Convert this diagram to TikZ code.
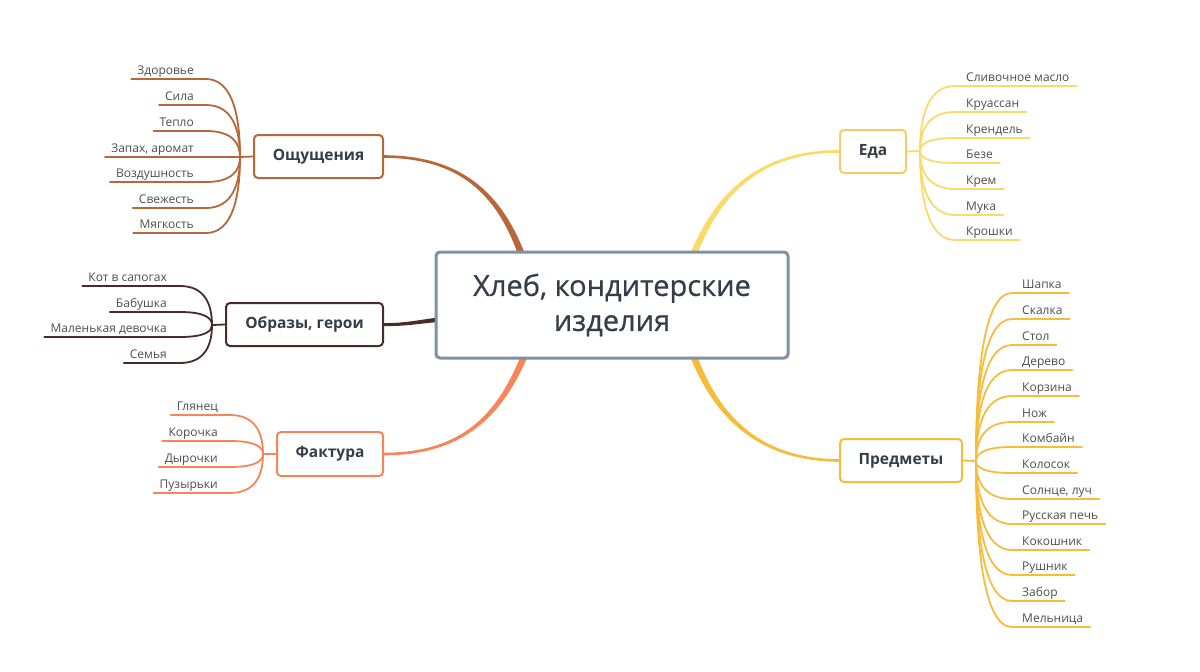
\documentclass[tikz,border=0pt]{standalone}
\usepackage{fontspec}
\setmainfont{Open Sans}
\newfontfamily\titlefont[FakeBold=0.6]{Open Sans}
\usetikzlibrary{calc}
\definecolor{cO}{RGB}{184,103,58}
\definecolor{cB}{RGB}{75,43,40}
\definecolor{cF}{RGB}{247,133,89}
\definecolor{cE}{RGB}{250,218,104}
\definecolor{cEb}{RGB}{246,205,100}
\definecolor{cP}{RGB}{246,188,60}
\definecolor{cC}{RGB}{127,143,165}
\definecolor{txt}{RGB}{52,62,72}
\definecolor{leaf}{RGB}{77,77,77}
\begin{document}
\begin{tikzpicture}[x=1pt,y=-1pt,
  box/.style={draw, line width=2pt, rounded corners=4pt, fill=white, minimum height=43pt, inner sep=0pt,
    font=\fontsize{15.5}{19}\selectfont\bfseries, text=txt},
  leafL/.style={anchor=base east, inner sep=0pt, font=\fontsize{12}{14}\selectfont, text=leaf},
  leafR/.style={anchor=base west, inner sep=0pt, font=\fontsize{12}{14}\selectfont, text=leaf},
  sub/.style={line width=1.8pt, line cap=round}]
\useasboundingbox (0,0) rectangle (1200,672);

% branch boxes
\node[box, draw=cO, minimum width=129pt] (o) at (318.5,156.5) {Ощущения};
\node[box, draw=cB, minimum width=157pt] (b) at (304.5,324.5) {Образы, герои};
\node[box, draw=cF, minimum width=106pt, minimum height=44pt] (f) at (330,454) {Фактура};
\node[box, draw=cEb, minimum width=66pt] (e) at (873,151.5) {Еда};
\node[box, draw=cP, minimum width=122pt] (p) at (901,460.5) {Предметы};

% main tapered connectors
\fill[cO] ($(o.east)+(0,-1.3)$) .. controls (480,155.7) and (518,213) .. (539,300)
  -- (531,300) .. controls (512,217) and (480,158.3) .. ($(o.east)+(0,1.3)$) -- cycle;
\fill[cF] ($(f.east)+(0,1.3)$) .. controls (480,455.3) and (518,398) .. (544,310)
  -- (536,310) .. controls (512,394) and (480,452.7) .. ($(f.east)+(0,-1.3)$) -- cycle;
\fill[cE] ($(e.west)+(0,-1.3)$) .. controls (745,149.7) and (697,210) .. (676,300)
  -- (684,300) .. controls (703,214) and (745,152.3) .. ($(e.west)+(0,1.3)$) -- cycle;
\fill[cP] ($(p.west)+(0,1.3)$) .. controls (745,461.3) and (697,402) .. (676,310)
  -- (684,310) .. controls (703,398) and (745,458.7) .. ($(p.west)+(0,-1.3)$) -- cycle;
\fill[cB] ($(b.east)+(0,-1.5)$) .. controls (410,323.4) and (425,318) .. (450,316.5)
  -- (450,321.5) .. controls (425,322) and (410,326.6) .. ($(b.east)+(0,1.5)$) -- cycle;

% central node
\node[draw=cC, line width=3pt, rounded corners=4pt, fill=white, minimum width=352pt, minimum height=106pt,
  align=center, text=txt, font=\fontsize{29}{35}\titlefont] (c) at (612,305) {Хлеб, кондитерские\\изделия};

% Ощущения leaves
\coordinate (jo) at (240,157);
\draw[sub,cO] (o.west) -- (jo);
\foreach \t/\y [count=\i] in {Здоровье/79, Сила/105, Тепло/131, {Запах, аромат}/157, Воздушность/182, Свежесть/208, Мягкость/233}{
  \node[leafL] (o\i) at (194,\y-4.5) {\t};
  \draw[sub,cO] ($(o\i.base west)+(-6,4.5)$) -- (206,\y) .. controls (233.2,\y) and (240,{(157+\y)/2}) .. (jo);
}

% Образы leaves
\coordinate (jb) at (212,325);
\draw[sub,cB] (b.west) -- (jb);
\foreach \t/\y [count=\i] in {Кот в сапогах/286, Бабушка/312, Маленькая девочка/337, Семья/363}{
  \node[leafL] (b\i) at (167,\y-4.5) {\t};
  \draw[sub,cB] ($(b\i.base west)+(-6,4.5)$) -- (180,\y) .. controls (205.6,\y) and (212,{(325+\y)/2}) .. (jb);
}

% Фактура leaves
\coordinate (jf) at (263,454);
\draw[sub,cF] (f.west) -- (jf);
\foreach \t/\y [count=\i] in {Глянец/415, Корочка/441, Дырочки/467, Пузырьки/493}{
  \node[leafL] (f\i) at (218,\y-4.5) {\t};
  \draw[sub,cF] ($(f\i.base west)+(-6,4.5)$) -- (230,\y) .. controls (256.4,\y) and (263,{(454+\y)/2}) .. (jf);
}

% Еда leaves
\coordinate (je) at (920,151);
\draw[sub,cE] (e.east) -- (je);
\foreach \t/\y [count=\i] in {Сливочное масло/86, Круассан/112, Крендель/138, Безе/163, Крем/189, Мука/215, Крошки/240}{
  \node[leafR] (e\i) at (966,\y-4.5) {\t};
  \draw[sub,cE] (je) .. controls (920,{(151+\y)/2}) and (927,\y) .. (955,\y) -- ($(e\i.base east)+(7,4.5)$);
}

% Предметы leaves
\coordinate (jp) at (976,461);
\draw[sub,cP] (p.east) -- (jp);
\foreach \t/\y [count=\i] in {Шапка/293, Скалка/319, Стол/345, Дерево/370, Корзина/396, Нож/422, Комбайн/447, Колосок/473, {Солнце, луч}/499, Русская печь/524, Кокошник/550, Рушник/575, Забор/601, Мельница/627}{
  \node[leafR] (p\i) at (1022,\y-4.5) {\t};
  \draw[sub,cP] (jp) .. controls (976,{(461+\y)/2}) and (983.2,\y) .. (1012,\y) -- ($(p\i.base east)+(7,4.5)$);
}
\end{tikzpicture}
\end{document}
